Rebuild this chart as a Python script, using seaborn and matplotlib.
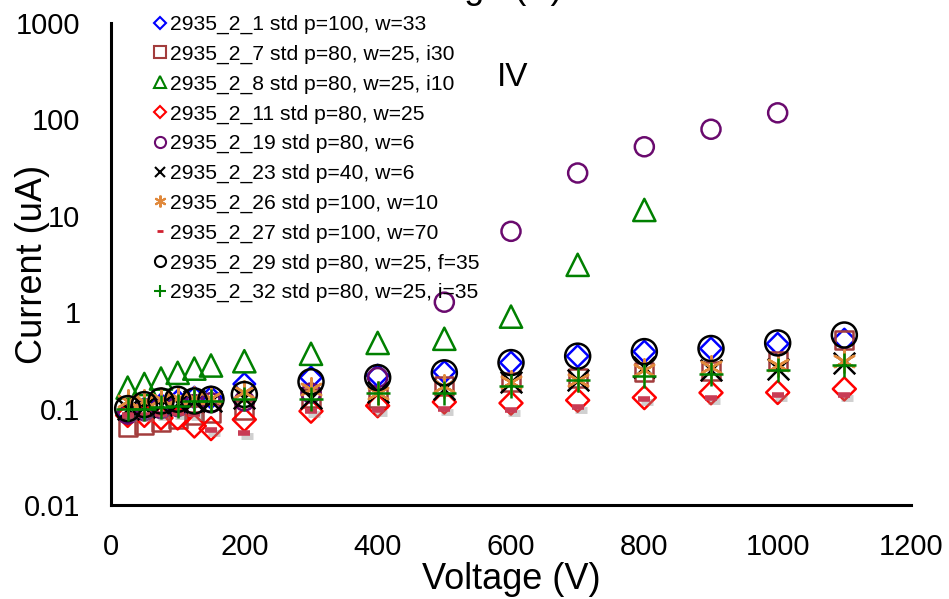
import numpy as np
import matplotlib
matplotlib.use("Agg")
import matplotlib.pyplot as plt
import matplotlib.transforms as mtransforms
from matplotlib.lines import Line2D
from matplotlib.ticker import LogLocator, NullFormatter, FixedLocator, MultipleLocator, FuncFormatter
import seaborn as sns

# ---------------- data ----------------
voltage = [25, 50, 75, 100, 125, 150, 200, 300, 400, 500, 600, 700, 800, 900, 1000, 1100]

series_labels = [
    "2935_2_1 std p=100, w=33",
    "2935_2_7 std p=80, w=25, i30",
    "2935_2_8 std p=80, w=25, i10",
    "2935_2_11 std p=80, w=25",
    "2935_2_19 std p=80, w=6",
    "2935_2_23 std p=40, w=6",
    "2935_2_26 std p=100, w=10",
    "2935_2_27 std p=100, w=70",
    "2935_2_29 std p=80, w=25, f=35",
    "2935_2_32 std p=80, w=25, i=35",
]

cur_2_1 = [0.09, 0.10, 0.11, 0.12, 0.13, 0.13, 0.18, 0.21, 0.22, 0.24, 0.30, 0.35, 0.39, 0.42, 0.47, 0.52]
cur_2_7 = [0.065, 0.068, 0.072, 0.078, 0.085, 0.09, 0.097, 0.13, 0.13, 0.17, 0.19, 0.21, 0.24, 0.245, 0.31, 0.52]
cur_2_8 = [0.165, 0.18, 0.205, 0.235, 0.26, 0.28, 0.31, 0.37, 0.48, 0.53, 0.90, 3.1, 11.5]
cur_2_11 = [0.085, 0.085, 0.08, 0.08, 0.066, 0.062, 0.077, 0.094, 0.107, 0.117, 0.114, 0.122, 0.13, 0.146, 0.147, 0.16]
cur_2_19 = [0.088, 0.095, 0.10, 0.105, 0.11, 0.115, 0.12, 0.145, 0.21, 1.27, 6.9, 27.8, 52, 79, 117]
cur_2_23 = [0.10, 0.105, 0.11, 0.115, 0.12, 0.12, 0.13, 0.13, 0.15, 0.16, 0.19, 0.20, 0.27, 0.25, 0.26, 0.30]
cur_2_26 = [0.12, 0.12, 0.125, 0.13, 0.13, 0.13, 0.15, 0.16, 0.145, 0.17, 0.19, 0.20, 0.25, 0.27, 0.28, 0.31]
cur_2_27 = [0.085, 0.085, 0.088, 0.09, 0.088, 0.06, 0.056, 0.095, 0.097, 0.10, 0.097, 0.105, 0.125, 0.13, 0.14, 0.14]
cur_2_29 = [0.10, 0.11, 0.12, 0.125, 0.12, 0.125, 0.14, 0.19, 0.21, 0.235, 0.30, 0.35, 0.39, 0.42, 0.48, 0.58]
cur_2_32 = [0.098, 0.10, 0.105, 0.107, 0.12, 0.12, 0.126, 0.125, 0.145, 0.146, 0.17, 0.20, 0.22, 0.23, 0.25, 0.28]

y_ticks = [0.01, 0.1, 1, 10, 100, 1000]
y_tick_labels = ["0.01", "0.1", "1", "10", "100", "1000"]
x_ticks = [0, 200, 400, 600, 800, 1000, 1200]

# ---------------- style ----------------
sns.set_theme(style="white")
plt.rcParams['font.family'] = ['Liberation Sans', 'DejaVu Sans']

W, H = 949, 599
fig = plt.figure(figsize=(W / 100, H / 100), dpi=100)
ax = fig.add_axes([111 / W, (H - 505) / H, 800 / W, 482 / H])
ax.set_yscale('log')

lw = 1.8
# (values, marker, size, color, filled-style?)
specs = [
    (cur_2_1, 'D', 11.0, '#0000ff', True),
    (cur_2_7, 's', 13.0, '#a33d3d', True),
    (cur_2_8, '^', 16.0, '#008000', True),
    (cur_2_11, 'D', 11.7, '#ff0000', True),
    (cur_2_19, 'o', 13.7, '#6a0a6e', True),
    (cur_2_23, 'x', 15.5, '#000000', False),
    (cur_2_26, (6, 2, 0), 16.0, '#e0893c', False),
    (cur_2_27, '_', 9.0, '#c83c55', False),
    (cur_2_29, 'o', 18.0, '#000000', True),
    (cur_2_32, '+', 17.5, '#008000', False),
]

for vals, mk, size, col, filled in specs:
    xv = voltage[:len(vals)]
    if mk == '_':
        shadow = ax.transData + mtransforms.ScaledTranslation(3 / 100, -3 / 100, fig.dpi_scale_trans)
        sns.scatterplot(x=xv, y=vals, ax=ax, marker='_', s=size ** 2, color='#8a8a8a',
                        edgecolor=None, linewidth=5.0, alpha=0.4, transform=shadow,
                        legend=False, zorder=3)
        sns.scatterplot(x=xv, y=vals, ax=ax, marker='_', s=size ** 2, color=col,
                        edgecolor=None, linewidth=4.0, legend=False, zorder=3)
    elif filled:
        sns.scatterplot(x=xv, y=vals, ax=ax, marker=mk, s=size ** 2, facecolor='none',
                        edgecolor=col, linewidth=lw, legend=False, zorder=3)
    else:
        sns.scatterplot(x=xv, y=vals, ax=ax, marker=mk, s=size ** 2, color=col,
                        edgecolor=None, linewidth=lw, legend=False, zorder=3)

# ---------------- axes ----------------
ax.set_xlim(0, 1200)
ax.set_ylim(0.01, 1000)
ax.xaxis.set_major_locator(FixedLocator(x_ticks))
ax.xaxis.set_minor_locator(MultipleLocator(40))
ax.yaxis.set_major_locator(FixedLocator(y_ticks))
ax.yaxis.set_major_formatter(FuncFormatter(lambda v, p: y_tick_labels[y_ticks.index(v)] if v in y_ticks else ""))
ax.yaxis.set_minor_locator(LogLocator(base=10, subs=np.arange(2, 10)))
ax.yaxis.set_minor_formatter(NullFormatter())

for s in ['top', 'right']:
    ax.spines[s].set_visible(False)
for s in ['left', 'bottom']:
    ax.spines[s].set_linewidth(2.2)
    ax.spines[s].set_color('black')

ax.tick_params(axis='y', which='major', direction='in', length=7.5, width=1.5,
               labelsize=21, pad=22, colors='black')
ax.tick_params(axis='y', which='minor', direction='in', length=5.5, width=1.5, colors='black')
ax.tick_params(axis='x', which='major', direction='in', length=8.5, width=1.5,
               labelsize=21, pad=20, colors='black')
ax.tick_params(axis='x', which='minor', direction='in', length=5.5, width=1.5, colors='black')

ax.set_xlabel("Voltage (V)", fontsize=26, color='black')
ax.set_ylabel("Current (uA)", fontsize=26, color='black')
ax.xaxis.set_label_coords(0.5, -(562 - 505) / 482)
ax.yaxis.set_label_coords((50 - 111) / 800, 0.5)

# ---------------- texts ----------------
fig.text(513 / W, 1 - 86 / H, "IV", ha='center', va='baseline', fontsize=24, color='black')
fig.text(563 / W, 1 + 2 / H, "Voltage (V)", ha='right', va='baseline', fontsize=26, color='black')

# ---------------- legend ----------------
leg_specs = [
    ('D', 6.0, '#0000ff', True),
    ('s', 8.0, '#a33d3d', True),
    ('^', 8.0, '#008000', True),
    ('D', 6.0, '#ff0000', True),
    ('o', 8.0, '#6a0a6e', True),
    ('x', 7.0, '#000000', False),
    ((6, 2, 0), 8.5, '#e0893c', False),
    ('_', 4.5, '#d02030', False),
    ('o', 8.0, '#000000', True),
    ('+', 8.5, '#008000', False),
]
handles = []
for mk, ms, col, filled in leg_specs:
    if filled:
        h = Line2D([], [], linestyle='', marker=mk, markersize=ms, markerfacecolor='none',
                   markeredgecolor=col, markeredgewidth=1.5)
    else:
        h = Line2D([], [], linestyle='', marker=mk, markersize=ms, color=col,
                   markeredgecolor=col, markeredgewidth=2.0 if mk == '_' else 1.5)
    handles.append(h)

leg = ax.legend(handles, series_labels, loc='upper left',
                bbox_to_anchor=(149 / W, 1 - 15 / H), bbox_transform=fig.transFigure,
                frameon=False, fontsize=15.2, handlelength=1.0, handletextpad=0.0,
                labelspacing=0.5, borderpad=0, borderaxespad=0, numpoints=1)
for t in leg.get_texts():
    t.set_color('black')

fig.savefig("out.png", dpi=100)
